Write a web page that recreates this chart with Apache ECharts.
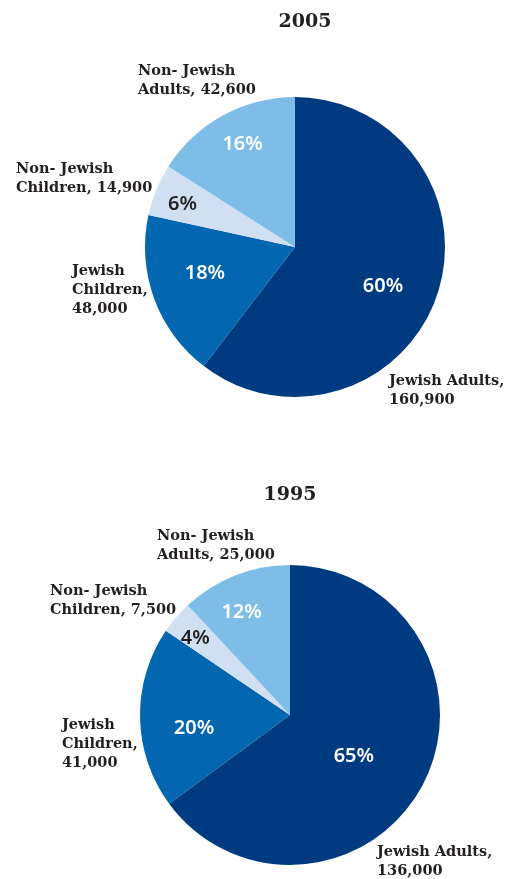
<!DOCTYPE html>
<html>
<head>
<meta charset="utf-8">
<script src="https://cdn.jsdelivr.net/npm/echarts@6/dist/echarts.min.js"></script>
<style>
  html, body { margin: 0; padding: 0; background: #fff; }
  #main { width: 515px; height: 879px; }
</style>
</head>
<body>
<div id="main"></div>
<script>
// data
const categories = ['Jewish Adults', 'Jewish Children', 'Non- Jewish Children', 'Non- Jewish Adults'];
const years = ['2005', '1995'];
const values2005 = [160900, 48000, 14900, 42600];
const values1995 = [136000, 41000, 7500, 25000];

const colors = ['#003a80', '#0266b0', '#d0e0f2', '#7dbde8'];
const pctColors = ['#fff', '#fff', '#231f20', '#fff'];

// how each outer label breaks into lines
const labelHead = ['Jewish Adults,\n', 'Jewish\nChildren,\n', 'Non- Jewish\nChildren, ', 'Non- Jewish\nAdults, '];

const serif = '"DejaVu Serif", serif';
const sans = '"Noto Sans", sans-serif';

let chart = echarts.init(document.getElementById('main'));

function fmt(v) { return v.toLocaleString('en-US'); }

// pie layouts (center in px, label offsets from the center, nudges for the % labels)
const layouts = [
  { center: [295, 247], title: [300, 8],
    offs: [[94, 125], [-223, 15], [-279, -87], [-157, -185]],
    nudge: [[-19, 3], [16, -13], [-8, 0], [2, -4]] },
  { center: [290, 715], title: [285, 481],
    offs: [[87, 128], [-228, 1], [-240, -133], [-133, -188]],
    nudge: [[-37, -10], [17, 11], [-9, -3], [-7, 2]] }
];

function buildSeries(values, lay) {
  const total = values.reduce((a, b) => a + b, 0);
  const slices = {
    type: 'pie',
    center: lay.center,
    radius: [0, 150],
    startAngle: 90,
    clockwise: true,
    silent: true,
    animation: false,
    itemStyle: { borderWidth: 0 },
    labelLine: { show: false },
    label: {
      show: true,
      position: 'outside',
      overflow: 'none',
      fontFamily: serif,
      fontWeight: 'bold',
      fontSize: 14.5,
      lineHeight: 19,
      color: '#231f20',
      formatter: p => labelHead[p.dataIndex] + fmt(p.value)
    },
    labelLayout: p => {
      const o = lay.offs[p.dataIndex];
      return { x: lay.center[0] + o[0], y: lay.center[1] + o[1], align: 'left', verticalAlign: 'top', hideOverlap: false };
    },
    data: categories.map((c, i) => ({ name: c, value: values[i], itemStyle: { color: colors[i] } }))
  };
  const pcts = {
    type: 'pie',
    center: lay.center,
    radius: [70, 150],
    startAngle: 90,
    clockwise: true,
    silent: true,
    animation: false,
    z: 3,
    itemStyle: { color: 'rgba(0,0,0,0)' },
    labelLine: { show: false },
    label: {
      show: true,
      position: 'inside',
      fontFamily: sans,
      fontWeight: 600,
      fontSize: 20,
      formatter: p => Math.round(p.value / total * 100) + '%'
    },
    labelLayout: p => {
      const n = lay.nudge[p.dataIndex];
      return { dx: n[0], dy: n[1] };
    },
    data: categories.map((c, i) => ({ name: c, value: values[i], label: { color: pctColors[i] } }))
  };
  return [slices, pcts];
}

let option = {
  backgroundColor: '#fff',
  title: years.map((y, i) => ({
    text: y,
    left: layouts[i].title[0],
    top: layouts[i].title[1],
    textAlign: 'center',
    textStyle: { fontFamily: serif, fontWeight: 'bold', fontSize: 19, color: '#231f20' }
  })),
  series: [
    ...buildSeries(values2005, layouts[0]),
    ...buildSeries(values1995, layouts[1])
  ]
};
chart.setOption(option);
</script>
</body>
</html>
